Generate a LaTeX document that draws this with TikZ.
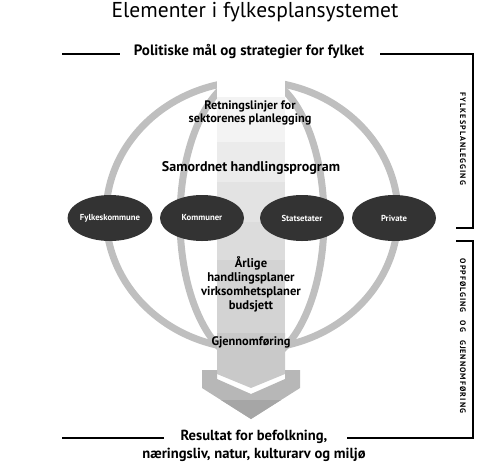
\documentclass[tikz,border=0pt]{standalone}
\usepackage{fontspec}
\setmainfont{PT Sans}
\usetikzlibrary{shapes.geometric}
\definecolor{arcgray}{HTML}{BFBFBF}
\definecolor{darkell}{HTML}{333333}
\definecolor{bandA}{HTML}{FFFFFF}
\definecolor{bandB}{HTML}{F3F3F3}
\definecolor{bandC}{HTML}{EBEBEB}
\definecolor{bandD}{HTML}{E3E3E3}
\definecolor{bandE}{HTML}{DCDCDC}
\definecolor{bandF}{HTML}{D3D3D3}
\definecolor{bandG}{HTML}{C9C9C9}
\definecolor{arrowup}{HTML}{B7B7B7}
\definecolor{arrowlow}{HTML}{A6A6A6}
\begin{document}
\begin{tikzpicture}[x=1pt,y=-1pt,
  arcline/.style={draw=arcgray,line width=7pt},
  actor/.style={ellipse,fill=darkell,minimum width=84pt,minimum height=46pt,inner sep=0pt,text=white,font=\fontsize{8.7}{10}\selectfont\bfseries},
  coltext/.style={align=center,font=\fontsize{12.6}{14}\selectfont\bfseries,inner sep=0pt},
  headtext/.style={align=center,font=\fontsize{15}{18}\selectfont\bfseries,inner sep=0pt},
  sidetext/.style={rotate=-90,inner sep=0pt,font=\fontsize{8}{9}\selectfont\bfseries\addfontfeature{LetterSpace=13}},
  bracket/.style={line width=2pt}]
\useasboundingbox (0,0) rectangle (489,464);
% globe arcs
\draw[arcline] (252,215) ellipse [x radius=146, y radius=134];
\draw[arcline] (252,219) ellipse [x radius=72, y radius=144];
% central column
\fill[bandA] (217,66) rectangle (285,97);
\fill[bandB] (217,97) rectangle (285,142);
\fill[bandC] (217,142) rectangle (285,182);
\fill[bandD] (217,182) rectangle (285,222);
\fill[bandE] (217,222) rectangle (285,260);
\fill[bandF] (217,260) rectangle (285,333);
\fill[bandG] (217,333) -- (285,333) -- (285,374) -- (251,388) -- (217,374) -- cycle;
% arrow
\path[fill=arrowup] (202,370) -- (217,370) -- (217,379) -- (251,394) -- (285,379) -- (285,370) -- (300,370) -- (300,388) -- (251,419) -- (202,388) -- cycle;
\begin{scope}
\clip (202,370) -- (217,370) -- (217,379) -- (251,394) -- (285,379) -- (285,370) -- (300,370) -- (300,388) -- (251,419) -- (202,388) -- cycle;
\fill[arrowlow] (195,400) rectangle (305,425);
\end{scope}
% actors
\node[actor] (fk) at (110,218) {Fylkeskommune};
\node[actor] (ko) at (202,218) {Kommuner};
\node[actor] (st) at (302,218) {Statsetater};
\node[actor] (pr) at (394,218) {Private};
% texts
\node[font=\fontsize{21.5}{24}\selectfont,inner sep=0pt] (title) at (255,12) {Elementer i fylkesplansystemet};
\node[headtext] (pol) at (249,52) {Politiske mål og strategier for fylket};
\node[coltext,font=\fontsize{12.3}{13.5}\selectfont\bfseries] (ret) at (250,113) {Retningslinjer for\\sektorenes planlegging};
\node[headtext,font=\fontsize{14}{16}\selectfont\bfseries] (sam) at (251,168) {Samordnet handlingsprogram};
\node[coltext] (arl) at (251,284) {Årlige\\handlingsplaner\\virksomhetsplaner\\budsjett};
\node[coltext,font=\fontsize{12.4}{14}\selectfont\bfseries] (gje) at (251,342) {Gjennomføring};
\node[headtext,font=\fontsize{14.6}{18}\selectfont\bfseries] (res) at (254,446) {Resultat for befolkning,\\næringsliv, natur, kulturarv og miljø};
\node[sidetext] (fpl) at (463,139) {FYLKESPLANLEGGING};
\node[sidetext] (opp) at (463,336) {OPPFØLGING\hspace{5pt} OG\hspace{5pt} GJENNOMFØRING};
% brackets and rules
\coordinate (tl) at (62,54);
\coordinate (tle) at (120,54);
\coordinate (trs) at (380,54);
\coordinate (tr) at (473,54);
\coordinate (b1) at (473,228);
\coordinate (b1e) at (456,228);
\coordinate (b2s) at (456,241);
\coordinate (b2) at (473,241);
\coordinate (br) at (473,438);
\coordinate (bre) at (347,438);
\coordinate (bl) at (62,438);
\coordinate (ble) at (164,438);
\draw[bracket] (tl) -- (tle);
\draw[bracket] (trs) -- (tr) -- (b1) -- (b1e);
\draw[bracket] (b2s) -- (b2) -- (br) -- (bre);
\draw[bracket] (bl) -- (ble);
\end{tikzpicture}
\end{document}
